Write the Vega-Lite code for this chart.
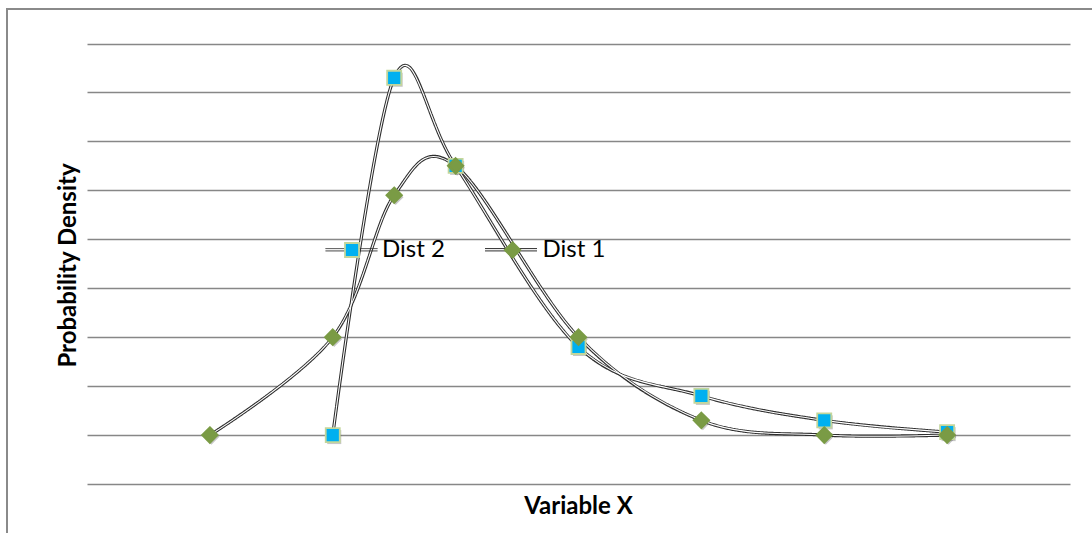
{
  "$schema": "https://vega.github.io/schema/vega-lite/v6.json",
  "autosize": {"type": "none"},
  "width": 1088,
  "height": 527,
  "padding": {"left": 7, "top": 9, "right": -3, "bottom": -3},
  "background": "white",
  "config": {
    "view": {"stroke": "#8a8a8a", "strokeWidth": 2},
    "font": "Lato"
  },
  "data": {
    "values": [
      {"series": "Dist 2", "x": 1, "density": 1.0},
      {"series": "Dist 2", "x": 1.5, "density": 8.3},
      {"series": "Dist 2", "x": 2, "density": 6.5},
      {"series": "Dist 2", "x": 3, "density": 2.8},
      {"series": "Dist 2", "x": 4, "density": 1.8},
      {"series": "Dist 2", "x": 5, "density": 1.3},
      {"series": "Dist 2", "x": 6, "density": 1.06},
      {"series": "Dist 1", "x": 0, "density": 1.0},
      {"series": "Dist 1", "x": 1, "density": 3.0},
      {"series": "Dist 1", "x": 1.5, "density": 5.9},
      {"series": "Dist 1", "x": 2, "density": 6.5},
      {"series": "Dist 1", "x": 3, "density": 3.0},
      {"series": "Dist 1", "x": 4, "density": 1.3},
      {"series": "Dist 1", "x": 5, "density": 1.0},
      {"series": "Dist 1", "x": 6, "density": 1.0}
    ]
  },
  "encoding": {
    "x": {
      "field": "x",
      "type": "quantitative",
      "scale": {"domain": [-1, 7], "range": [80, 1063], "nice": false, "zero": false},
      "axis": {
        "orient": "bottom",
        "domain": false,
        "ticks": false,
        "labels": false,
        "grid": false,
        "title": "Variable X",
        "titleFont": "Lato",
        "titleFontSize": 24,
        "titleFontWeight": "bold",
        "titleColor": "#000000",
        "titleX": 571,
        "titleY": -23,
        "titleAlign": "center",
        "titleBaseline": "alphabetic"
      }
    },
    "y": {
      "field": "density",
      "type": "quantitative",
      "scale": {"domain": [0, 9], "range": [475, 34.5], "nice": false, "zero": false},
      "axis": {
        "domain": false,
        "ticks": false,
        "labels": false,
        "grid": true,
        "values": [0, 1, 2, 3, 4, 5, 6, 7, 8, 9],
        "gridColor": "#878787",
        "gridWidth": 1.6,
        "title": "Probability Density",
        "titleFont": "Lato",
        "titleFontSize": 24,
        "titleFontWeight": "bold",
        "titleColor": "#000000",
        "titleAngle": -90,
        "titleX": 68,
        "titleY": 256,
        "titleAlign": "center",
        "titleBaseline": "alphabetic"
      }
    }
  },
  "layer": [
    {
      "transform": [{"filter": "datum.series === 'Dist 2'"}],
      "mark": {"type": "point", "filled": true, "size": 2704, "shape": "M-0.27,-0.27H0.27V0.27H-0.27Z", "fill": "#000000", "opacity": 0.22, "xOffset": 1.5, "yOffset": 2}
    },
    {
      "transform": [{"filter": "datum.series === 'Dist 1'"}],
      "mark": {"type": "point", "filled": true, "size": 2704, "shape": "M0,-0.3L0.3,0L0,0.3L-0.3,0Z", "fill": "#000000", "opacity": 0.22, "xOffset": 1.5, "yOffset": 2}
    },
    {
      "mark": {"type": "line", "interpolate": "cardinal", "color": "#2e2e2e", "strokeWidth": 3.2},
      "encoding": {
        "strokeDash": {
          "field": "series",
          "type": "nominal",
          "scale": {"domain": ["Dist 2", "Dist 1"], "range": [[1, 0], [1, 0]]},
          "legend": {
            "orient": "none",
            "legendX": 318,
            "legendY": 214,
            "direction": "horizontal",
            "title": null,
            "padding": 0,
            "symbolType": "M-1,-0.045H1M-1,0.045H1",
            "symbolSize": 2704,
            "symbolStrokeColor": "#2e2e2e",
            "symbolStrokeWidth": 1,
            "labelExpr": "''",
            "labelFont": "Lato",
            "labelFontSize": 24,
            "labelOffset": 3,
            "columnPadding": 101.5,
            "zindex": 0,
            "encode": {"symbols": {"update": {"strokeWidth": {"value": 1}, "stroke": {"value": "#2e2e2e"}}}}
          }
        }
      }
    },
    {
      "mark": {"type": "line", "interpolate": "cardinal", "color": "#ffffff", "strokeWidth": 1.1},
      "encoding": {"detail": {"field": "series", "type": "nominal"}}
    },
    {
      "mark": {"type": "point", "filled": true, "size": 2704, "strokeWidth": 1.8, "opacity": 1},
      "encoding": {
        "fill": {
          "field": "series",
          "type": "nominal",
          "sort": "descending",
          "scale": {"range": ["#00b0f0", "#7a9b45"]},
          "legend": {
            "orient": "none",
            "legendX": 318,
            "legendY": 214,
            "direction": "horizontal",
            "title": null,
            "padding": 0,
            "symbolSize": 2704,
            "symbolStrokeWidth": 1.8,
            "labelFont": "Lato",
            "labelFontSize": 24,
            "labelColor": "#000000",
            "labelOffset": 3,
            "columnPadding": 40.5,
            "zindex": 1
          }
        },
        "stroke": {
          "field": "series",
          "type": "nominal",
          "sort": "descending",
          "scale": {"range": ["#c3d69b", "#7a9b45"]}
        },
        "shape": {
          "field": "series",
          "type": "nominal",
          "sort": "descending",
          "scale": {"range": ["M-0.27,-0.27H0.27V0.27H-0.27Z", "M0,-0.3L0.3,0L0,0.3L-0.3,0Z"]}
        }
      }
    }
  ]
}
